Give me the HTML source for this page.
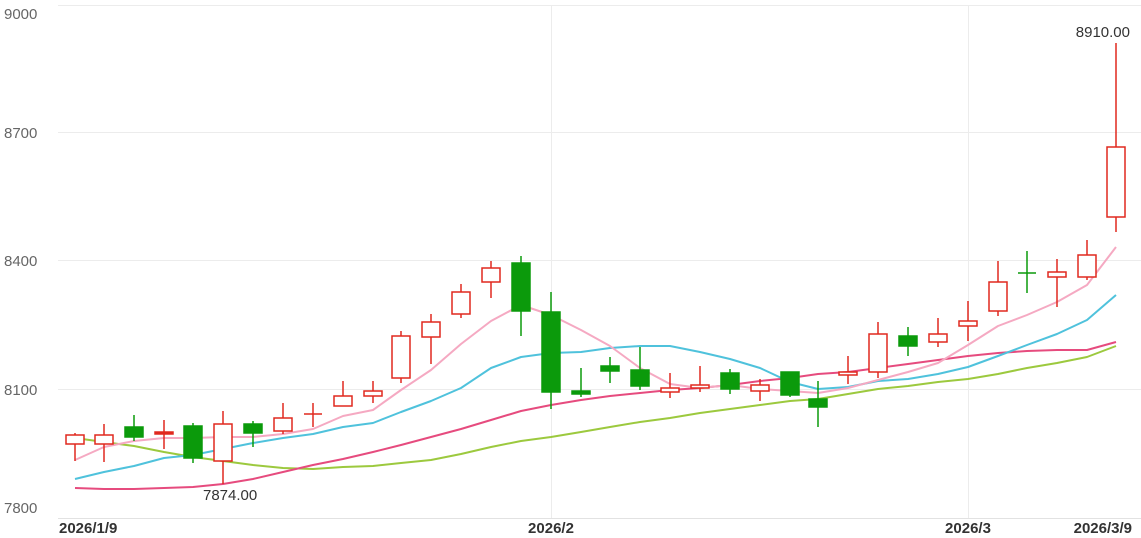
<!DOCTYPE html>
<html><head><meta charset="utf-8"><style>
html,body{margin:0;padding:0;background:#fff;}
svg{display:block;font-family:"Liberation Sans",Arial,sans-serif;}
</style></head><body>
<svg width="1141" height="538" viewBox="0 0 1141 538" xmlns="http://www.w3.org/2000/svg">
<g stroke="#ececec" stroke-width="1">
<line x1="58" y1="5.5" x2="1141" y2="5.5"/>
<line x1="58" y1="132.5" x2="1141" y2="132.5"/>
<line x1="58" y1="260.5" x2="1141" y2="260.5"/>
<line x1="58" y1="389.5" x2="1141" y2="389.5"/>
<line x1="551.5" y1="5" x2="551.5" y2="518"/>
<line x1="968.5" y1="5" x2="968.5" y2="518"/>
</g>
<line x1="58" y1="518.5" x2="1141" y2="518.5" stroke="#e2e2e2"/>
<g fill="#666" font-size="15">
<text x="4" y="19">9000</text>
<text x="4" y="138">8700</text>
<text x="4" y="266">8400</text>
<text x="4" y="395">8100</text>
<text x="4" y="513">7800</text>
</g>
<g fill="#333" font-size="15" font-weight="bold">
<text x="59" y="533">2026/1/9</text>
<text x="551" y="533" text-anchor="middle">2026/2</text>
<text x="968" y="533" text-anchor="middle">2026/3</text>
<text x="1132" y="533" text-anchor="end">2026/3/9</text>
</g>
<g id="c"></g>
<g fill="none" stroke-width="2" stroke-linejoin="round">
<polyline stroke="#9cc93e" points="75,438 104,442 134,446 164,452 193,457 223,461 253,465 283,468 313,469 343,467 373,466 401,463 431,460 461,454 491,447 521,441 551,437 581,432 610,427 640,422 670,418 700,413 730,409 760,405 790,401 818,399 848,394 878,389 908,386 938,382 968,379 998,374 1027,368 1057,363 1087,357 1116,346"/>
<polyline stroke="#e64b7e" points="75,488 104,489 134,489 164,488 193,487 223,484 253,479 283,472 313,465 343,459 373,452 401,445 431,437 461,429 491,420 521,411 551,405 581,400 610,396 640,393 670,390 700,388 730,385 760,381 790,378 818,374 848,372 878,368 908,364 938,360 968,356 998,353 1027,351 1057,350 1087,350 1116,342"/>
<polyline stroke="#4fc2dc" points="75,479 104,472 134,466 164,458 193,455 223,449 253,443 283,438 313,434 343,427 373,423 401,412 431,401 461,388 491,368 521,357 551,353 581,352 610,348 640,346 670,346 700,352 730,359 760,368 790,382 818,389 848,387 878,381 908,379 938,374 968,367 998,356 1027,345 1057,334 1087,320 1116,295"/>
<polyline stroke="#f5a9c2" points="75,460 104,447 134,441 164,438 193,438 223,437 253,437 283,434 313,429 343,416 373,410 401,390 431,370 461,344 491,321 521,305 551,315 581,330 610,346 640,368 670,384 700,388 730,385 760,389 790,391 818,393 848,388 878,380 908,372 938,363 968,345 998,326 1027,315 1057,302 1087,285 1116,247"/>
</g>
<g stroke-width="1.5">
<!-- red (hollow) candles: x, top, bottom, high, low -->
<g stroke="#e0281f" fill="#fff">
<line x1="75" y1="433" x2="75" y2="461"/><rect x="66" y="435" width="18" height="9"/>
<line x1="104" y1="424" x2="104" y2="462"/><rect x="95" y="435" width="18" height="9"/>
<line x1="164" y1="420" x2="164" y2="449"/><rect x="155" y="432" width="18" height="2" fill="#e0281f"/>
<line x1="223" y1="411" x2="223" y2="484"/><rect x="214" y="424" width="18" height="37"/>
<line x1="283" y1="403" x2="283" y2="434"/><rect x="274" y="418" width="18" height="13"/>
<line x1="313" y1="403" x2="313" y2="427"/><line x1="304" y1="414" x2="322" y2="414"/>
<line x1="343" y1="381" x2="343" y2="406"/><rect x="334" y="396" width="18" height="10"/>
<line x1="373" y1="381" x2="373" y2="403"/><rect x="364" y="391" width="18" height="5"/>
<line x1="401" y1="331" x2="401" y2="383"/><rect x="392" y="336" width="18" height="42"/>
<line x1="431" y1="314" x2="431" y2="364"/><rect x="422" y="322" width="18" height="15"/>
<line x1="461" y1="284" x2="461" y2="318"/><rect x="452" y="292" width="18" height="22"/>
<line x1="491" y1="261" x2="491" y2="298"/><rect x="482" y="268" width="18" height="14"/>
<line x1="670" y1="373" x2="670" y2="398"/><rect x="661" y="388" width="18" height="4"/>
<line x1="700" y1="366" x2="700" y2="392"/><rect x="691" y="385" width="18" height="3"/>
<line x1="760" y1="379" x2="760" y2="401"/><rect x="751" y="385" width="18" height="6"/>
<line x1="848" y1="356" x2="848" y2="384"/><rect x="839" y="372" width="18" height="3"/>
<line x1="878" y1="322" x2="878" y2="378"/><rect x="869" y="334" width="18" height="38"/>
<line x1="938" y1="318" x2="938" y2="347"/><rect x="929" y="334" width="18" height="8"/>
<line x1="968" y1="301" x2="968" y2="341"/><rect x="959" y="321" width="18" height="5"/>
<line x1="998" y1="261" x2="998" y2="316"/><rect x="989" y="282" width="18" height="29"/>
<line x1="1057" y1="259" x2="1057" y2="307"/><rect x="1048" y="272" width="18" height="5"/>
<line x1="1087" y1="240" x2="1087" y2="280"/><rect x="1078" y="255" width="18" height="22"/>
<line x1="1116" y1="43" x2="1116" y2="232"/><rect x="1107" y="147" width="18" height="70"/>
</g>
<g stroke="#0b9a0b" fill="#0b9a0b">
<line x1="134" y1="415" x2="134" y2="441"/><rect x="125" y="427" width="18" height="10"/>
<line x1="193" y1="423" x2="193" y2="463"/><rect x="184" y="426" width="18" height="32"/>
<line x1="253" y1="421" x2="253" y2="447"/><rect x="244" y="424" width="18" height="9"/>
<line x1="521" y1="256" x2="521" y2="336"/><rect x="512" y="263" width="18" height="48"/>
<line x1="551" y1="292" x2="551" y2="409"/><rect x="542" y="312" width="18" height="80"/>
<line x1="581" y1="368" x2="581" y2="397"/><rect x="572" y="391" width="18" height="3"/>
<line x1="610" y1="357" x2="610" y2="383"/><rect x="601" y="366" width="18" height="5"/>
<line x1="640" y1="347" x2="640" y2="390"/><rect x="631" y="370" width="18" height="16"/>
<line x1="730" y1="369" x2="730" y2="394"/><rect x="721" y="373" width="18" height="16"/>
<line x1="790" y1="372" x2="790" y2="397"/><rect x="781" y="372" width="18" height="23"/>
<line x1="818" y1="381" x2="818" y2="427"/><rect x="809" y="399" width="18" height="8"/>
<line x1="908" y1="327" x2="908" y2="356"/><rect x="899" y="336" width="18" height="10"/>
<line x1="1027" y1="251" x2="1027" y2="293"/><line x1="1018" y1="273" x2="1036" y2="273"/>
</g>
</g>
<g fill="#333" font-size="15">
<text x="1130" y="37" text-anchor="end">8910.00</text>
<text x="203" y="500">7874.00</text>
</g>
</svg>
</body></html>
